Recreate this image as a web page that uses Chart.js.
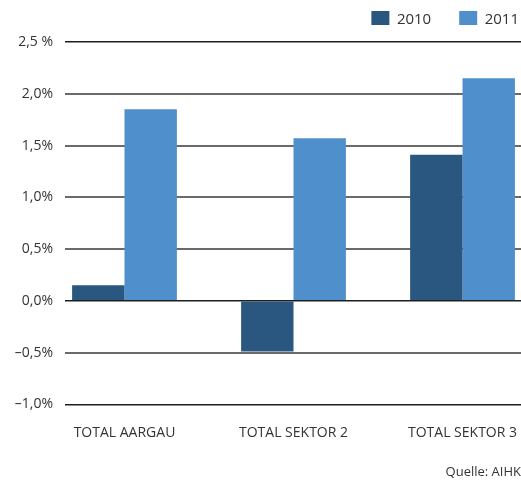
<!DOCTYPE html>
<html>
<head>
<meta charset="utf-8">
<script src="https://cdn.jsdelivr.net/npm/chart.js@4"></script>
<style>
  body { margin: 0; background: #fff; }
  canvas { display: block; }
</style>
</head>
<body>
<canvas id="growthChart" width="521" height="480"></canvas>
<script>
const categories = ["TOTAL AARGAU", "TOTAL SEKTOR 2", "TOTAL SEKTOR 3"];
const values2010 = [0.15, -0.49, 1.41];
const values2011 = [1.85, 1.57, 2.15];
const yTickLabels = ["\u20131,0%", "\u20130,5%", "0,0%", "0,5%", "1,0%", "1,5%", "2,0%", "2,5 %"];

const growthChart = document.getElementById("growthChart");
const font = "'Open Sans', 'Noto Sans', sans-serif";

function toPoints(values) {
  return values.map((v, i) => ({ x: i, y: v }));
}

// wide gap between legend items but a short legend box, pushed to the right edge
const legendShift = {
  id: "legendShift",
  beforeLayout(chart) {
    const legend = chart.legend;
    if (legend && !legend._patched) {
      const fit = legend.fit;
      legend.fit = function () {
        fit.call(this);
        this.height = 42;
      };
      legend._patched = true;
    }
  },
  afterLayout(chart) {
    chart.legend.left += 26;
    chart.legend.right += 26;
    chart.legend.top -= 17;
    chart.legend.bottom -= 17;
  },
};

new Chart(growthChart, {
  type: "bar",
  data: {
    datasets: [
      {
        label: "2010",
        data: toPoints(values2010),
        backgroundColor: "#2a577f",
      },
      {
        label: "2011",
        data: toPoints(values2011),
        backgroundColor: "#4f8fcc",
      },
    ],
  },
  plugins: [legendShift],
  options: {
    responsive: false,
    animation: false,
    barPercentage: 1,
    categoryPercentage: 0.62,
    layout: { padding: 0 },
    plugins: {
      legend: {
        align: "end",
        labels: {
          boxWidth: 18,
          boxHeight: 18,
          padding: 28,
          color: "#333",
          font: { family: font, size: 15 },
        },
      },
      subtitle: {
        display: true,
        text: "Quelle: AIHK",
        position: "bottom",
        align: "end",
        color: "#333",
        font: { family: font, size: 13 },
        padding: { top: 0, bottom: 0 },
      },
      tooltip: { enabled: false },
    },
    scales: {
      x: {
        type: "linear",
        offset: false,
        min: -0.352,
        max: 2.346,
        afterBuildTicks: (axis) => {
          axis.ticks = categories.map((c, i) => ({ value: i }));
        },
        afterFit: (axis) => {
          axis.height = 60;
          axis.paddingLeft = 0;
          axis.paddingRight = 0;
        },
        grid: { display: false },
        border: { display: false },
        ticks: {
          padding: 12,
          maxRotation: 0,
          color: "#333",
          font: { family: font, size: 14 },
          callback: (v) => categories[v],
        },
      },
      y: {
        min: -1,
        max: 2.5,
        afterFit: (axis) => {
          axis.width = 65;
          axis.paddingTop = 0;
          axis.paddingBottom = 0;
        },
        border: { display: false },
        grid: {
          drawTicks: false,
          color: (ctx) => {
            const v = ctx.tick ? ctx.tick.value : 0;
            return v === 2.5 || v === 0 || v === -1 ? "#1e1e1e" : "#6a6a6a";
          },
          lineWidth: (ctx) => {
            const v = ctx.tick ? ctx.tick.value : 0;
            return v === 2.5 || v === 0 || v === -1 ? 1.5 : 2;
          },
        },
        ticks: {
          stepSize: 0.5,
          padding: 12,
          color: "#333",
          font: { family: font, size: 14 },
          callback: (v) => yTickLabels[Math.round((v + 1) / 0.5)],
        },
      },
    },
  },
});
</script>
</body>
</html>
